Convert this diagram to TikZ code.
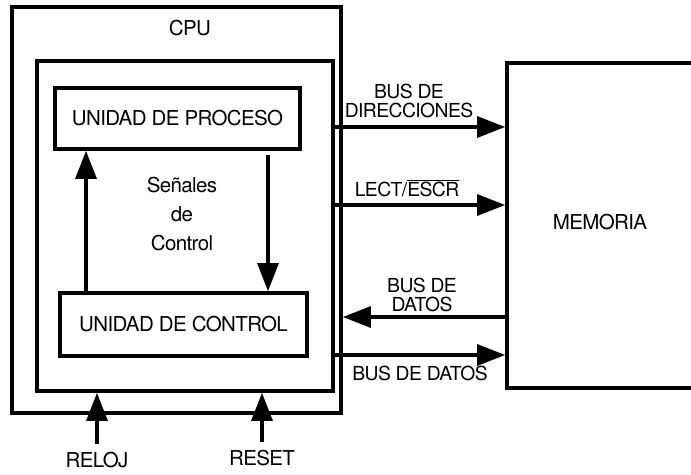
\documentclass[tikz,border=0pt]{standalone}
\usepackage{fontspec}
\setmainfont[LetterSpace=-3]{TeX Gyre Heros}
\usetikzlibrary{arrows.meta}

\begin{document}
\begin{tikzpicture}[x=0.03cm,y=-0.03cm,
  blk/.style={draw,line width=2.8pt,inner sep=0pt,font=\fontsize{17.5}{20}\selectfont},
  txt/.style={inner sep=0pt,font=\fontsize{17.5}{20}\selectfont},
  bl/.style={inner sep=0pt,align=center,font=\fontsize{16.5}{15.5}\selectfont},
  a/.style={-{Triangle[length=0.85cm,width=0.62cm]},line width=3.8pt}
]
  \path[use as bounding box,clip] (0,0) rectangle (691,475);
  % CPU
  \node[blk,minimum width=9.87cm,minimum height=12.18cm] (cpu) at (176.5,210) {};
  \node[txt] (cpulbl) at (190,28) {CPU};
  \node[blk,minimum width=8.88cm,minimum height=9.9cm] (cpuin) at (185,226) {};
  \node[blk,minimum width=7.35cm,minimum height=1.83cm] (proc) at (177.5,118.5) {UNIDAD DE PROCESO};
  \node[blk,minimum width=7.41cm,minimum height=1.89cm] (ctrl) at (183.5,324.5) {UNIDAD DE CONTROL};
  \node[txt,align=center,font=\fontsize{17.5}{24.7}\selectfont] (senal) at (182,214) {Señales\\de\\Control};
  \draw[a] (ctrl.north -| 86,0) -- (proc.south -| 86,0);
  \draw[a,shorten <=4pt] (proc.south -| 268,0) -- (ctrl.north -| 268,0);
  % memoria
  \node[blk,minimum width=7.59cm,minimum height=9.75cm] (mem) at (633.5,225.5) {};
  \node[txt] (memlbl) at (600,222) {MEMORIA};
  % buses
  \draw[a] (cpuin.east |- 0,127) -- (mem.west |- 0,127);
  \draw[a] (cpuin.east |- 0,205) -- (mem.west |- 0,205);
  \draw[a] (mem.west |- 0,317) -- (cpu.east |- 0,317);
  \draw[a] (cpuin.east |- 0,355) -- (mem.west |- 0,355);
  \node[bl] (dirlbl) at (409,101) {BUS DE\\DIRECCIONES};
  \node[bl] (rwlbl) at (407,188) {LECT/$\overline{\mbox{ESCR}}$};
  \node[bl] (dinlbl) at (422,295) {BUS DE\\DATOS};
  \node[bl] (doutlbl) at (420,373) {BUS DE DATOS};
  % entradas
  \node[txt] (reloj) at (97,460) {RELOJ};
  \node[txt] (reset) at (262,458) {RESET};
  \draw[a,shorten <=0.25cm] (reloj.north) -- (reloj.north |- cpuin.south);
  \draw[a,shorten <=0.25cm] (reset.north) -- (reset.north |- cpuin.south);
\end{tikzpicture}
\end{document}
